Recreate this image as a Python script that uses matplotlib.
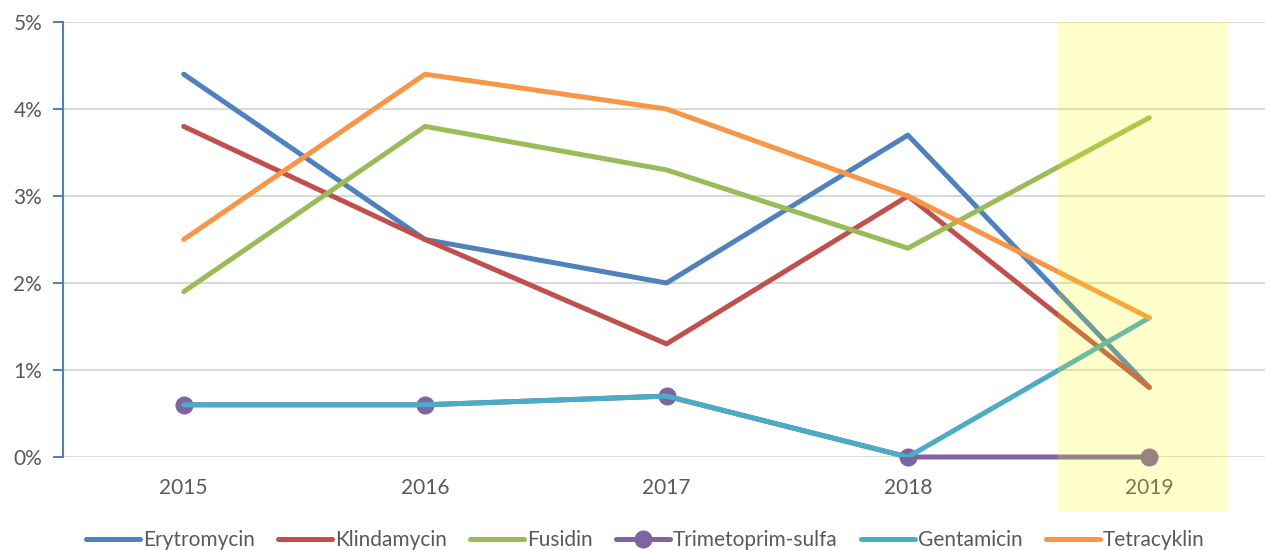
import matplotlib.pyplot as plt
from matplotlib.patches import Rectangle
from matplotlib.ticker import FuncFormatter

plt.rcParams['font.family'] = ['Lato', 'DejaVu Sans']

years = ['2015', '2016', '2017', '2018', '2019']
erytromycin = [4.4, 2.5, 2.0, 3.7, 0.8]
klindamycin = [3.8, 2.5, 1.3, 3.0, 0.8]
fusidin = [1.9, 3.8, 3.3, 2.4, 3.9]
trimetoprim = [0.6, 0.6, 0.7, 0.0, 0.0]
gentamicin = [0.6, 0.6, 0.7, 0.0, 1.6]
tetracyklin = [2.5, 4.4, 4.0, 3.0, 1.6]

x = list(range(len(years)))
lw = 3.6

fig = plt.figure(figsize=(12.65, 5.5), dpi=100)
ax = fig.add_axes([63 / 1265, 1 - 457 / 550, 1207 / 1265, 435 / 550])

ax.plot(x, erytromycin, color='#4F81BD', lw=lw, label='Erytromycin', solid_capstyle='round')
ax.plot(x, klindamycin, color='#C0504D', lw=lw, label='Klindamycin', solid_capstyle='round')
ax.plot(x, fusidin, color='#9BBB59', lw=lw, label='Fusidin', solid_capstyle='round')
ax.plot(x, trimetoprim, color='#8064A2', lw=lw, marker='o', markersize=12,
        label='Trimetoprim-sulfa', solid_capstyle='round', clip_on=False)
ax.plot(x, gentamicin, color='#4BACC6', lw=lw, label='Gentamicin', solid_capstyle='round')
ax.plot(x, tetracyklin, color='#F79646', lw=lw, label='Tetracyklin', solid_capstyle='round')

# markedering av 2019
ax.add_patch(Rectangle((3.62, -0.63), 0.70, 5.63, facecolor='#FFFF00', alpha=0.2,
                       edgecolor='none', clip_on=False, zorder=10))

ax.set_xlim(-0.5, 4.5)
ax.set_ylim(0, 5)
ax.set_xticks(x)
ax.set_xticklabels(years)
ax.set_yticks([0, 1, 2, 3, 4, 5])
ax.yaxis.set_major_formatter(FuncFormatter(lambda v, p: f'{v:.0f}%'))
ax.grid(axis='y', color='#D9D9D9', lw=1.5)
ax.set_axisbelow(True)
for s in ['top', 'right', 'bottom']:
    ax.spines[s].set_visible(False)
ax.spines['left'].set_color('#4F81BD')
ax.spines['left'].set_linewidth(1.5)
ax.tick_params(axis='y', colors='#4F81BD', length=7, width=1.5, labelcolor='#595959',
               labelsize=15, pad=8)
ax.tick_params(axis='x', length=0, labelcolor='#595959', labelsize=15, pad=15)

fig.legend(loc='center', bbox_to_anchor=(0.51, 1 - 540 / 550), ncol=6, frameon=False,
           fontsize=15, handlelength=2.6, columnspacing=1.1, handletextpad=0.15,
           labelcolor='#595959')

fig.savefig('out.png', dpi=100)
